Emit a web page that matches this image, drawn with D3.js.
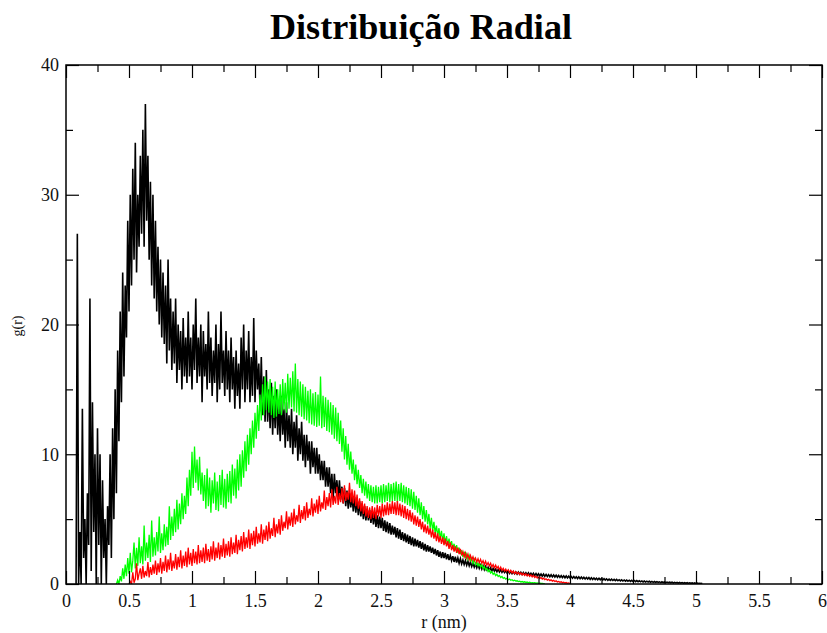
<!DOCTYPE html>
<html>
<head>
<meta charset="utf-8">
<script src="https://cdn.jsdelivr.net/npm/d3@7"></script>
<style>
  html, body { margin: 0; padding: 0; background: #fff; }
  svg { display: block; }
</style>
</head>
<body>
<svg id="chart" width="827" height="633"></svg>
<script>
// ---------- DATA ----------
const title = "Distribuição Radial";
const xLabel = "r (nm)";
const yLabel = "g(r)";
const xTicks = [0, 0.5, 1, 1.5, 2, 2.5, 3, 3.5, 4, 4.5, 5, 5.5, 6];
const xTickLabels = ["0", "0.5", "1", "1.5", "2", "2.5", "3", "3.5", "4", "4.5", "5", "5.5", "6"];
const yTicks = [0, 10, 20, 30, 40];
const yTickLabels = ["0", "10", "20", "30", "40"];
const seriesNames = ["black", "green", "red"];
const seriesColors = ["#000000", "#00ff00", "#ff0000"];
const rStep = 0.01;

// black series: r from 0.08, step 0.01
const blackStart = 0.08;
const blackValues = [
  0, 27, 0, 4, 0, 13.5, 2, 5, 0, 7,
  3, 22, 1, 14, 4, 10, 0, 12, 3, 10,
  0, 8, 2, 5, 0, 6, 3, 10, 2, 12,
  5, 15, 7, 18, 11, 21, 14, 24, 16, 23,
  19, 28, 21, 30, 23, 32, 25, 34, 24, 30,
  26, 33, 27, 35, 26, 37, 28, 33, 25, 31,
  23, 30, 22, 28, 21, 26, 20, 25, 19, 24,
  18.5, 23, 17, 25, 18, 22, 16.5, 21, 17, 22,
  15.5, 20, 16.5, 19.5, 15, 20.5, 16, 19, 15.5, 21,
  16, 19, 15, 20, 16.5, 22, 15.5, 19, 16, 20,
  14, 19.5, 16, 18.5, 15, 21, 15.5, 19, 14.5, 18,
  15.5, 20, 14, 18.5, 15, 21, 15.5, 18, 14.5, 19.5,
  15, 18, 14, 19, 15, 17.5, 13.5, 18, 14.5, 17,
  13.5, 19, 15, 20, 14, 18, 15, 19.5, 14, 17.5,
  14.5, 20.5, 14, 18, 15, 17, 13.5, 17.5, 13, 16,
  12.5, 16.5, 12.5, 15, 12, 15.5, 11.5, 14.5, 12, 15,
  11.5, 14, 11, 14.5, 11.5, 13.5, 10.5, 14, 11, 13,
  10.5, 13.5, 10, 12.5, 10.5, 13, 9.5, 12, 10, 12.5,
  9.5, 11.5, 9, 11.5, 9.5, 11, 8.5, 11, 9, 10.5,
  8.5, 10.5, 8.5, 10, 8, 9.5, 8, 9.5, 7.5, 9,
  7.5, 9, 7, 8.5, 6.5, 8.5, 7, 8, 6.5, 8, 6.5, 7.5,
  6.2, 7.4, 6.0, 7.2, 5.8, 7.0, 5.9, 6.8, 5.6, 6.7,
  5.5, 6.5, 5.3, 6.4, 5.2, 6.2, 5.0, 6.0, 4.9, 5.8,
  4.9, 5.7, 4.7, 5.6, 4.6, 5.5, 4.4, 5.3, 4.3, 5.2,
  4.3, 5.1, 4.1, 4.9, 4.0, 4.8, 3.9, 4.7, 3.8, 4.5,
  3.8, 4.4, 3.6, 4.3, 3.5, 4.2, 3.4, 4.0, 3.3, 3.9,
  3.2, 3.8, 3.1, 3.7, 3.0, 3.6, 2.9, 3.5, 2.9, 3.4,
  2.8, 3.3, 2.7, 3.2, 2.6, 3.1, 2.5, 3.0, 2.5, 2.9,
  2.4, 2.8, 2.3, 2.7, 2.2, 2.6, 2.1, 2.5, 2.0, 2.45,
  2.0, 2.4, 1.9, 2.3, 1.85, 2.2, 1.8, 2.15, 1.7, 2.1,
  1.65, 2.0, 1.6, 1.95, 1.55, 1.85, 1.5, 1.8, 1.45, 1.75,
  1.4, 1.7, 1.35, 1.6, 1.3, 1.55, 1.25, 1.5, 1.2, 1.45,
  1.15, 1.4, 1.1, 1.35, 1.1, 1.3, 1.05, 1.25, 1.0, 1.2,
  1.0, 1.15, 0.95, 1.12, 0.92, 1.1, 0.9, 1.05, 0.88, 1.02,
  0.85, 1.0,
  0.82, 0.98, 0.80, 0.95, 0.79, 0.93, 0.76, 0.92, 0.75, 0.90,
  0.73, 0.89, 0.72, 0.86, 0.70, 0.86, 0.68, 0.83, 0.67, 0.82,
  0.65, 0.80, 0.64, 0.79, 0.62, 0.77, 0.60, 0.76, 0.59, 0.74,
  0.58, 0.72, 0.56, 0.71, 0.55, 0.69, 0.54, 0.68, 0.52, 0.66,
  0.51, 0.64, 0.50, 0.63, 0.48, 0.62, 0.47, 0.60, 0.46, 0.58,
  0.45, 0.57, 0.44, 0.56, 0.42, 0.55, 0.41, 0.53, 0.40, 0.52,
  0.39, 0.50, 0.38, 0.49, 0.36, 0.48, 0.35, 0.46, 0.34, 0.45,
  0.33, 0.44, 0.32, 0.42, 0.31, 0.41, 0.30, 0.40, 0.29, 0.38,
  0.28, 0.37, 0.27, 0.36, 0.26, 0.35, 0.25, 0.33, 0.24, 0.32,
  0.23, 0.31, 0.22, 0.30, 0.21, 0.29, 0.20, 0.28, 0.19, 0.27,
  0.18, 0.26, 0.18, 0.25, 0.17, 0.24, 0.16, 0.23, 0.15, 0.22,
  0.15, 0.21, 0.14, 0.20, 0.13, 0.19, 0.13, 0.18, 0.12, 0.17,
  0.11, 0.17, 0.11, 0.16, 0.10, 0.15, 0.10, 0.14, 0.09, 0.14,
  0.08, 0.13, 0.08, 0.12, 0.07, 0.12, 0.07, 0.11, 0.06, 0.10,
  0.06, 0.10, 0.05, 0.09, 0.05, 0.08, 0.04, 0.08, 0.04, 0.07,
  0.03, 0.06, 0.03, 0.05
];

// green series: r from 0.40, step 0.01
const greenStart = 0.40;
const greenValues = [
  0, 0.3, 0, 0.6, 0.2, 1.2, 0.4, 1.5, 0.6, 2.0,
  0.8, 2.4, 0.9, 1.8, 3.2, 1.2, 2.8, 1.4, 3.6, 1.6,
  2.9, 1.5, 4.5, 1.8, 3.2, 2.0, 3.8, 1.7, 4.9, 2.1,
  3.6, 2.2, 4.0, 2.5, 5.2, 2.4, 3.9, 2.6, 4.6, 2.9,
  4.4, 3.0, 6.0, 3.4, 5.2, 3.7, 5.8, 4.0, 6.5, 4.2,
  6.2, 4.6, 7.0, 5.0, 6.8, 5.4, 8.2, 6.0, 8.8, 6.8,
  10.2, 7.4, 10.6, 7.8, 9.6, 7.2, 9.8, 6.9, 8.6, 6.4,
  8.4, 5.8, 8.9, 6.0, 8.2, 5.5, 8.0, 6.2, 8.6, 5.7,
  7.9, 5.6, 8.4, 6.1, 8.8, 5.9, 8.1, 5.8, 8.5, 6.3,
  8.7, 6.2, 9.2, 6.8, 8.9, 6.6, 9.6, 7.2, 10.0, 7.5,
  10.3, 8.2, 11.0, 8.7, 11.5, 9.2, 12.0, 10.0, 12.6, 10.5,
  13.2, 11.2, 13.8, 11.8, 14.6, 12.6, 15.4, 13.0, 16.0, 13.4,
  15.6, 13.2, 15.8, 13.0, 15.2, 12.8, 15.6, 12.9, 15.0, 13.1,
  15.4, 13.0, 15.8, 13.4, 15.5, 13.2, 16.2, 13.5, 15.9, 13.6,
  16.4, 13.3, 17.0, 13.2, 15.8, 13.0, 15.6, 12.9, 15.4, 12.7,
  15.2, 12.6, 14.9, 12.4, 15.0, 12.3, 14.7, 12.2, 14.8, 12.1,
  14.6, 12.2, 16.0, 12.0, 14.5, 12.1, 14.4, 11.8, 14.2, 11.7,
  14.0, 11.5, 13.8, 11.2, 13.6, 11.0, 13.2, 10.8, 12.6, 10.2,
  12.0, 9.6, 11.4, 9.2, 10.8, 8.8, 10.2, 8.5, 9.6, 8.0,
  9.2, 7.7, 8.8, 7.4, 8.4, 7.0, 8.1, 6.8, 7.9, 6.6,
  7.7, 6.4, 7.6, 6.3, 7.5, 6.2, 7.6, 6.2, 7.5, 6.3,
  7.6, 6.2, 7.7, 6.3, 7.6, 6.4, 7.8, 6.3, 7.7, 6.4,
  7.8, 6.4, 7.9, 6.3, 7.7, 6.4, 7.8, 6.3, 7.6, 6.2,
  7.5, 6.1, 7.4, 6.0, 7.3, 5.8, 7.1, 5.7, 6.8, 5.5,
  6.6, 5.3, 6.3, 5.0, 6.0, 4.8, 5.7, 4.6, 5.4, 4.3,
  5.1, 4.1, 4.8, 3.9, 4.5, 3.7, 4.3, 3.5, 4.1, 3.3,
  3.9, 3.1, 3.7, 3.0, 3.5, 2.9, 3.3, 2.7, 3.1, 2.6,
  3.0, 2.4, 2.8, 2.3, 2.6, 2.1, 2.5, 2.0, 2.3, 1.9,
  2.2, 1.8, 2.0, 1.6, 1.9, 1.5, 1.7, 1.4, 1.6, 1.3,
  1.5, 1.2, 1.35, 1.1, 1.2, 0.95, 1.1, 0.85, 0.95, 0.75,
  0.85, 0.65, 0.75, 0.58, 0.66, 0.5, 0.58, 0.44, 0.5, 0.38,
  0.44, 0.33, 0.38, 0.29, 0.33, 0.25, 0.29, 0.22, 0.25, 0.19,
  0.22, 0.16, 0.19, 0.14, 0.17, 0.12, 0.15, 0.1, 0.13, 0.09,
  0.11, 0.08, 0.1, 0.06, 0.08, 0.05, 0.06, 0.04, 0.05, 0.03,
  0.02
];

// red series: r from 0.50, step 0.01
const redStart = 0.50;
const redValues = [
  0, 0.2, 0, 0.9, 0.1, 0.4, 1.6, 0.3, 0.8, 1.2,
  0.4, 1.4, 0.5, 1.0, 0.6, 1.7, 0.5, 1.3, 0.7, 1.5,
  0.8, 1.8, 0.7, 1.6, 0.9, 2.0, 0.8, 1.7, 1.0, 2.2,
  0.9, 1.9, 1.1, 2.4, 1.0, 1.8, 1.2, 2.3, 1.1, 2.1,
  1.3, 2.6, 1.2, 2.2, 1.4, 2.5, 1.3, 2.8, 1.5, 2.4,
  1.4, 2.7, 1.6, 2.5, 1.5, 3.0, 1.6, 2.6, 1.7, 2.8,
  1.6, 3.1, 1.8, 2.7, 1.7, 2.9, 1.9, 3.3, 1.8, 2.8,
  2.0, 3.2, 1.9, 3.0, 2.1, 3.5, 2.0, 3.1, 2.2, 3.3,
  2.1, 3.6, 2.3, 3.2, 2.4, 3.8, 2.3, 3.4, 2.6, 3.7,
  2.5, 4.0, 2.7, 3.6, 2.8, 4.2, 2.7, 3.9, 3.0, 4.1,
  2.9, 4.4, 3.1, 3.9, 3.2, 4.6, 3.1, 4.2, 3.4, 4.5,
  3.3, 4.8, 3.5, 4.3, 3.7, 5.1, 3.6, 4.6, 3.9, 5.0,
  3.8, 5.3, 4.1, 4.8, 4.3, 5.6, 4.2, 5.2, 4.5, 5.5,
  4.4, 5.8, 4.6, 5.3, 4.8, 6.1, 4.7, 5.7, 5.0, 6.0,
  4.9, 6.3, 5.1, 5.8, 5.3, 6.6, 5.2, 6.2, 5.5, 6.5,
  5.4, 6.8, 5.6, 6.3, 5.8, 7.2, 5.7, 6.7, 6.0, 7.0,
  5.9, 7.3, 6.1, 6.8, 6.2, 7.5, 6.1, 7.0, 6.3, 7.4,
  6.2, 7.6, 6.4, 7.1, 6.5, 7.8, 6.3, 7.3, 6.2, 7.2,
  6.0, 6.9, 5.8, 6.6, 5.6, 6.4, 5.4, 6.2, 5.2, 6.0,
  5.1, 5.9, 5.0, 6.0, 5.1, 5.9, 5.0, 6.1, 5.2, 6.0,
  5.1, 6.2, 5.2, 6.1, 5.3, 6.3, 5.3, 6.2, 5.4, 6.4,
  5.4, 6.3, 5.3, 6.4, 5.3, 6.2, 5.2, 6.1, 5.1, 6.0,
  5.0, 5.8, 4.9, 5.7, 4.8, 5.5, 4.6, 5.3, 4.5, 5.2,
  4.4, 5.0, 4.2, 4.8, 4.0, 4.6, 3.9, 4.5, 3.8, 4.3,
  3.6, 4.2, 3.5, 4.0, 3.3, 3.9, 3.2, 3.7, 3.1, 3.6,
  3.0, 3.5, 2.9, 3.3, 2.7, 3.2, 2.6, 3.0, 2.5, 2.9,
  2.4, 2.8, 2.3, 2.7, 2.2, 2.5, 2.1, 2.4, 2.0, 2.3,
  1.9, 2.2, 1.85, 2.1, 1.8, 2.0, 1.7, 1.95, 1.65, 1.9,
  1.6, 1.8, 1.5, 1.75, 1.45, 1.65, 1.4, 1.6, 1.3, 1.5,
  1.25, 1.45, 1.2, 1.35, 1.1, 1.3, 1.05, 1.2, 1.0, 1.15,
  0.95, 1.1, 0.9, 1.05, 0.85, 1.0, 0.8, 0.95, 0.78, 0.9,
  0.74, 0.86, 0.7, 0.82, 0.66, 0.78, 0.62, 0.74, 0.58, 0.7,
  0.55, 0.66, 0.5, 0.6, 0.46, 0.55, 0.42, 0.5, 0.38, 0.45,
  0.34, 0.4, 0.3, 0.36, 0.26, 0.32, 0.22, 0.28, 0.19, 0.24,
  0.16, 0.2, 0.13, 0.17, 0.1, 0.14, 0.08, 0.11, 0.06, 0.08,
  0.04
];

// ---------- CHART ----------
const svg = d3.select("#chart");
const W = 827, H = 633;
const margin = { left: 66, right: 5, top: 65, bottom: 49 };
const x0 = margin.left, x1 = W - margin.right;
const y0 = H - margin.bottom, y1 = margin.top;

const x = d3.scaleLinear().domain([0, 6]).range([x0, x1]);
const y = d3.scaleLinear().domain([0, 40]).range([y0, y1]);

svg.append("rect").attr("width", W).attr("height", H).attr("fill", "#fff");

svg.append("clipPath").attr("id", "plotclip")
  .append("rect").attr("x", x0).attr("y", y1).attr("width", x1 - x0).attr("height", y0 - y1);

const series = [
  { name: seriesNames[0], color: seriesColors[0], start: blackStart, values: blackValues, width: 1.6 },
  { name: seriesNames[1], color: seriesColors[1], start: greenStart, values: greenValues, width: 1.3 },
  { name: seriesNames[2], color: seriesColors[2], start: redStart, values: redValues, width: 1.3 }
];

const line = d3.line()
  .x(d => x(d[0]))
  .y(d => y(d[1]));

const plot = svg.append("g").attr("clip-path", "url(#plotclip)");
series.forEach(s => {
  const pts = s.values.map((v, i) => [s.start + i * rStep, v]);
  plot.append("path")
    .datum(pts)
    .attr("fill", "none")
    .attr("stroke", s.color)
    .attr("stroke-width", s.width)
    .attr("stroke-linejoin", "miter")
    .attr("d", line);
});

// Axes with inward ticks, major + minor, on all four sides
const xMinor = d3.range(0.25, 6, 0.5);
const yMinor = d3.range(5, 40, 10);
const majorLen = 13, minorLen = 7;
const serif = "'Liberation Serif', 'Times New Roman', serif";

const axisStyle = g => {
  g.select(".domain").remove();
  g.selectAll("line").attr("stroke", "#000").attr("stroke-width", 1.2);
};

// bottom
svg.append("g").attr("transform", `translate(0,${y0})`)
  .call(d3.axisBottom(x).tickValues(xTicks).tickSize(-majorLen).tickFormat((d, i) => xTickLabels[i]).tickPadding(10))
  .call(axisStyle)
  .call(g => g.selectAll("text").attr("font-family", serif).attr("font-size", 18).attr("fill", "#111"));
svg.append("g").attr("transform", `translate(0,${y0})`)
  .call(d3.axisBottom(x).tickValues(xMinor).tickSize(-minorLen).tickFormat(""))
  .call(axisStyle);
// top
svg.append("g").attr("transform", `translate(0,${y1})`)
  .call(d3.axisTop(x).tickValues(xTicks).tickSize(-majorLen).tickFormat(""))
  .call(axisStyle);
svg.append("g").attr("transform", `translate(0,${y1})`)
  .call(d3.axisTop(x).tickValues(xMinor).tickSize(-minorLen).tickFormat(""))
  .call(axisStyle);
// left
svg.append("g").attr("transform", `translate(${x0},0)`)
  .call(d3.axisLeft(y).tickValues(yTicks).tickSize(-majorLen).tickFormat((d, i) => yTickLabels[i]).tickPadding(7))
  .call(axisStyle)
  .call(g => g.selectAll("text").attr("font-family", serif).attr("font-size", 18).attr("fill", "#111"));
svg.append("g").attr("transform", `translate(${x0},0)`)
  .call(d3.axisLeft(y).tickValues(yMinor).tickSize(-minorLen).tickFormat(""))
  .call(axisStyle);
// right
svg.append("g").attr("transform", `translate(${x1},0)`)
  .call(d3.axisRight(y).tickValues(yTicks).tickSize(-majorLen).tickFormat(""))
  .call(axisStyle);
svg.append("g").attr("transform", `translate(${x1},0)`)
  .call(d3.axisRight(y).tickValues(yMinor).tickSize(-minorLen).tickFormat(""))
  .call(axisStyle);

// frame
svg.append("rect")
  .attr("x", x0).attr("y", y1).attr("width", x1 - x0).attr("height", y0 - y1)
  .attr("fill", "none").attr("stroke", "#000").attr("stroke-width", 1.5);

// title
svg.append("text")
  .attr("x", 421).attr("y", 39)
  .attr("text-anchor", "middle")
  .attr("font-family", serif)
  .attr("font-weight", "bold")
  .attr("font-size", 35)
  .attr("textLength", 302)
  .attr("lengthAdjust", "spacingAndGlyphs")
  .text(title);

// x label
svg.append("text")
  .attr("x", 444).attr("y", 628)
  .attr("text-anchor", "middle")
  .attr("font-family", serif)
  .attr("font-size", 18)
  .attr("fill", "#111")
  .text(xLabel);

// y label
svg.append("text")
  .attr("transform", "translate(22,326) rotate(-90)")
  .attr("text-anchor", "middle")
  .attr("font-family", serif)
  .attr("font-size", 14)
  .attr("fill", "#111")
  .text(yLabel);
</script>
</body>
</html>
